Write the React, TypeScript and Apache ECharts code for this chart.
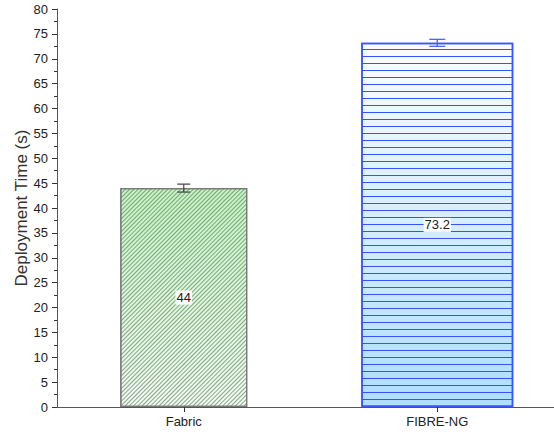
import React, { useEffect, useRef } from "react";
import * as echarts from "echarts";

const categories = ["Fabric", "FIBRE-NG"];
const fabricValues: (number | string)[] = [44, "-"];
const fibreValues: (number | string)[] = ["-", 73.2];
const errLow = [43.2, 72.5];
const errHigh = [44.8, 73.9];
const yTicks = { min: 0, max: 80, interval: 5 };

export default function App() {
  const ref = useRef<HTMLDivElement>(null);
  useEffect(() => {
    if (!ref.current) return;
    const chart = echarts.init(ref.current, null, { renderer: "svg" });
    const font = "Arial, 'Liberation Sans', sans-serif";
    const labelStyle = {
      show: true,
      position: "inside",
      formatter: "{c}",
      color: "#222",
      backgroundColor: "#fff",
      padding: [1, 1, 0, 1],
      fontSize: 13,
      fontFamily: font,
    };
    const errData = categories.map((_, i) => [i, errLow[i], errHigh[i]]);
    const capW = [13, 16];
    const errColors = ["#505050", "#4a64ff"];
    chart.setOption({
      animation: false,
      grid: { left: 57, top: 9, bottom: 28, width: 507, containLabel: false, outerBoundsMode: "none" },
      xAxis: [
        {
          type: "category",
          data: categories,
          axisLine: { show: true, lineStyle: { color: "#555", width: 1 } },
          axisTick: { show: true, alignWithLabel: true, length: 5, lineStyle: { color: "#333" } },
          axisLabel: { color: "#222", fontSize: 13, fontFamily: font, margin: 8 },
          splitLine: { show: false },
        },
        {
          type: "category",
          data: categories,
          show: false,
          gridIndex: 0,
        },
      ],
      yAxis: {
        type: "value",
        min: yTicks.min,
        max: yTicks.max,
        interval: yTicks.interval,
        name: "Deployment Time (s)",
        nameLocation: "middle",
        nameGap: 27,
        nameMoveOverlap: false,
        nameTextStyle: { color: "#333", fontSize: 17, fontFamily: font },
        axisLine: { show: true, lineStyle: { color: "#555", width: 1 } },
        axisTick: { show: true, length: 5, lineStyle: { color: "#333" } },
        minorTick: { show: true, splitNumber: 2, length: 3, lineStyle: { color: "#333" } },
        axisLabel: { color: "#222", fontSize: 13, fontFamily: font, margin: 9 },
        splitLine: { show: false },
      },
      series: [
        {
          type: "bar",
          xAxisIndex: 0,
          data: fabricValues,
          barWidth: 127,
          itemStyle: {
            color: new echarts.graphic.LinearGradient(0, 0, 0, 1, [
              { offset: 0, color: "#bff6bf" },
              { offset: 1, color: "#effcef" },
            ]),
            borderColor: "#7a7a7a",
            borderWidth: 1.2,
            decal: {
              symbol: "rect",
              symbolSize: 1,
              color: "rgba(90,105,90,0.62)",
              dashArrayX: [1, 0],
              dashArrayY: [1, 2],
              rotation: -Math.PI / 4,
            },
          },
          label: labelStyle,
          z: 2,
        },
        {
          type: "bar",
          xAxisIndex: 1,
          data: fibreValues,
          barWidth: 152,
          itemStyle: {
            color: new echarts.graphic.LinearGradient(0, 0, 0, 1, [
              { offset: 0, color: "#fbfdff" },
              { offset: 1, color: "#aedeff" },
            ]),
            borderColor: "#3a55ff",
            borderWidth: 1.5,
            decal: {
              symbol: "rect",
              symbolSize: 1,
              color: "#3553ff",
              dashArrayX: [1, 0],
              dashArrayY: [1, 5.2],
              rotation: 0,
            },
          },
          label: labelStyle,
          z: 2,
        },
        {
          type: "custom",
          xAxisIndex: 0,
          data: errData,
          encode: { x: 0, y: [1, 2] },
          z: 5,
          renderItem: (params: any, api: any) => {
            const i = params.dataIndex;
            const x = api.value(0);
            const lo = api.coord([x, api.value(1)]);
            const hi = api.coord([x, api.value(2)]);
            const h = capW[i] / 2;
            const style = { stroke: errColors[i], lineWidth: 1.3 };
            return {
              type: "group",
              children: [
                { type: "line", shape: { x1: hi[0], y1: hi[1], x2: lo[0], y2: lo[1] }, style },
                { type: "line", shape: { x1: hi[0] - h, y1: hi[1], x2: hi[0] + h, y2: hi[1] }, style },
                { type: "line", shape: { x1: lo[0] - h, y1: lo[1], x2: lo[0] + h, y2: lo[1] }, style },
              ],
            };
          },
        },
      ],
    });
    return () => chart.dispose();
  }, []);
  return (
    <div
      ref={ref}
      style={{ position: "fixed", left: 0, top: 0, width: 554, height: 435, background: "#fff" }}
    />
  );
}
